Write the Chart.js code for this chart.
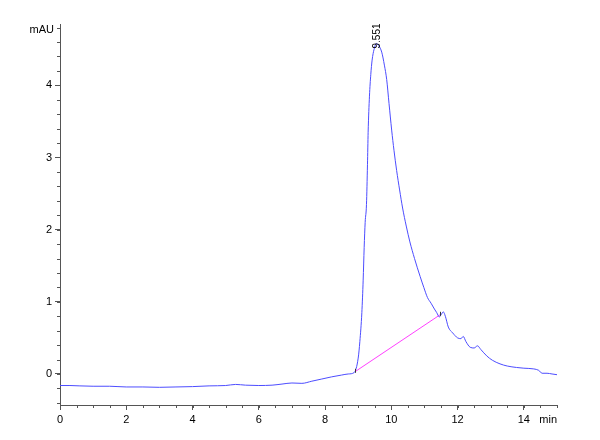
<!DOCTYPE html>
<html>
<head>
<meta charset="utf-8">
<script src="https://cdn.jsdelivr.net/npm/chart.js@4"></script>
<style>
html,body{margin:0;padding:0;background:#fff;}
#wrap{width:600px;height:440px;position:relative;}
</style>
</head>
<body>
<div id="wrap"><canvas id="c" width="600" height="440"></canvas></div>
<script>
// Retention time (min)
const times = [0,0.3,0.6,1.0,1.5,2.0,2.5,3.0,3.5,4.0,4.5,5.0,5.3,5.6,6.0,6.4,6.7,7.0,7.3,7.6,7.9,8.2,8.5,8.7,8.88,
  9.0,9.05,9.11,9.15,9.18,9.21,9.25,9.28,9.30,9.34,9.38,9.42,9.48,9.55,9.62,9.71,9.79,9.86,9.93,10.01,10.08,10.16,10.25,10.34,10.45,10.56,10.7,10.87,10.98,11.09,11.2,11.3,11.37,11.45,11.5,11.57,11.63,11.72,11.85,12.0,12.1,12.17,12.25,12.38,12.5,12.6,12.7,12.88,13.05,13.28,13.5,13.78,14.0,14.3,14.45,14.55,14.7,14.85,15.0];
// Absorbance (mAU)
const signal = [-0.16,-0.16,-0.165,-0.17,-0.17,-0.18,-0.18,-0.185,-0.18,-0.175,-0.165,-0.16,-0.145,-0.155,-0.16,-0.155,-0.14,-0.125,-0.13,-0.10,-0.07,-0.04,-0.015,0.0,0.02,
  0.22,0.45,0.85,1.3,1.75,2.1,2.35,2.9,3.35,3.85,4.15,4.35,4.5,4.58,4.55,4.46,4.28,4.08,3.75,3.38,3.1,2.82,2.55,2.3,2.05,1.83,1.6,1.35,1.2,1.06,0.98,0.9,0.85,0.79,0.82,0.86,0.8,0.65,0.57,0.5,0.49,0.52,0.45,0.37,0.36,0.39,0.34,0.25,0.19,0.14,0.11,0.09,0.08,0.07,0.05,0.01,0.01,0.0,-0.01];
// Integration baseline of the peak
const baseTimes = [8.90, 11.47];
const baseValues = [0.03, 0.82];
// Peak annotation
const peakTime = 9.551;
const peakValue = 4.58;
const peakLabel = "9.551";
// Tick labels
const xTicks = [0,2,4,6,8,10,12,14];
const yTicks = [0,1,2,3,4];
const xMinorStep = 0.5;
const yMinorStep = 0.2;
const xUnit = "min";
const yUnit = "mAU";

const FONT = '11px "Liberation Sans", Arial, sans-serif';
const AXIS = '#555555';

const mainData = times.map((t,i)=>({x:t,y:signal[i]}));
const baseData = baseTimes.map((t,i)=>({x:t,y:baseValues[i]}));

const extras = {
  id:'extras',
  afterDraw(chart){
    const ctx = chart.ctx, xs = chart.scales.x, ys = chart.scales.y, a = chart.chartArea;
    ctx.save();
    ctx.strokeStyle = AXIS; ctx.lineWidth = 1;
    // minor ticks x
    for (let v = xs.min; v <= xs.max + 1e-9; v += xMinorStep) {
      const px = Math.round(xs.getPixelForValue(v)) + 0.5;
      ctx.beginPath(); ctx.moveTo(px, a.bottom); ctx.lineTo(px, a.bottom + 3); ctx.stroke();
    }
    // minor ticks y
    for (let v = Math.ceil(ys.min / yMinorStep) * yMinorStep; v <= ys.max + 1e-9; v += yMinorStep) {
      const py = Math.round(ys.getPixelForValue(v)) + 0.5;
      ctx.beginPath(); ctx.moveTo(a.left - 3, py); ctx.lineTo(a.left, py); ctx.stroke();
    }
    // units
    ctx.fillStyle = '#000'; ctx.font = FONT; ctx.textBaseline = 'middle';
    ctx.textAlign = 'right';
    ctx.fillText(yUnit, a.left - 6, ys.getPixelForValue(ys.max) + 6);
    ctx.fillText(xUnit, a.right, a.bottom + 15);
    // baseline end marks
    ctx.strokeStyle = '#333';
    baseTimes.forEach((t,i)=>{
      const px = Math.round(xs.getPixelForValue(t)) + 0.5;
      const py = ys.getPixelForValue(baseValues[i]);
      ctx.beginPath(); ctx.moveTo(px, py - 3); ctx.lineTo(px, py + 1); ctx.stroke();
    });
    // peak label, rotated
    const lx = xs.getPixelForValue(peakTime), ly = ys.getPixelForValue(peakValue);
    ctx.translate(lx + 1, ly + 5);
    ctx.rotate(-Math.PI/2);
    ctx.textAlign = 'left'; ctx.textBaseline = 'middle';
    ctx.font = '10px "Liberation Sans", Arial, sans-serif';
    ctx.fillStyle = '#000';
    ctx.fillText(peakLabel, 0, 0);
    ctx.restore();
  }
};

const bg = {
  id:'bg',
  beforeDraw(chart){
    const ctx = chart.ctx; ctx.save(); ctx.fillStyle = '#fff';
    ctx.fillRect(0,0,chart.width,chart.height); ctx.restore();
  }
};

new Chart(document.getElementById('c'), {
  type:'line',
  data:{
    datasets:[
      {data:mainData, borderColor:'#4d4dff', borderWidth:1, pointRadius:0, cubicInterpolationMode:'monotone', fill:false},
      {data:baseData, borderColor:'#ff40ff', borderWidth:1, pointRadius:0, tension:0, fill:false}
    ]
  },
  options:{
    responsive:false,
    animation:false,
    devicePixelRatio:1,
    layout:{padding:{left:0,right:43,top:24,bottom:0}},
    plugins:{legend:{display:false}, tooltip:{enabled:false}},
    scales:{
      x:{
        type:'linear', min:0, max:15,
        afterBuildTicks(s){ s.ticks = xTicks.map(v=>({value:v})); },
        afterFit(s){ s.height = 35; },
        grid:{drawOnChartArea:false, drawTicks:true, tickLength:5, color:AXIS},
        border:{display:true, color:AXIS, width:1},
        ticks:{font:{family:'"Liberation Sans", Arial, sans-serif', size:11}, color:'#000', padding:3, maxRotation:0, autoSkip:false}
      },
      y:{
        type:'linear', min:-0.43, max:4.85,
        afterBuildTicks(s){ s.ticks = yTicks.map(v=>({value:v})); },
        afterFit(s){ s.width = 60; },
        grid:{drawOnChartArea:false, drawTicks:true, tickLength:5, color:AXIS},
        border:{display:true, color:AXIS, width:1},
        ticks:{font:{family:'"Liberation Sans", Arial, sans-serif', size:11}, color:'#000', padding:3, autoSkip:false}
      }
    }
  },
  plugins:[bg, extras]
});
</script>
</body>
</html>
